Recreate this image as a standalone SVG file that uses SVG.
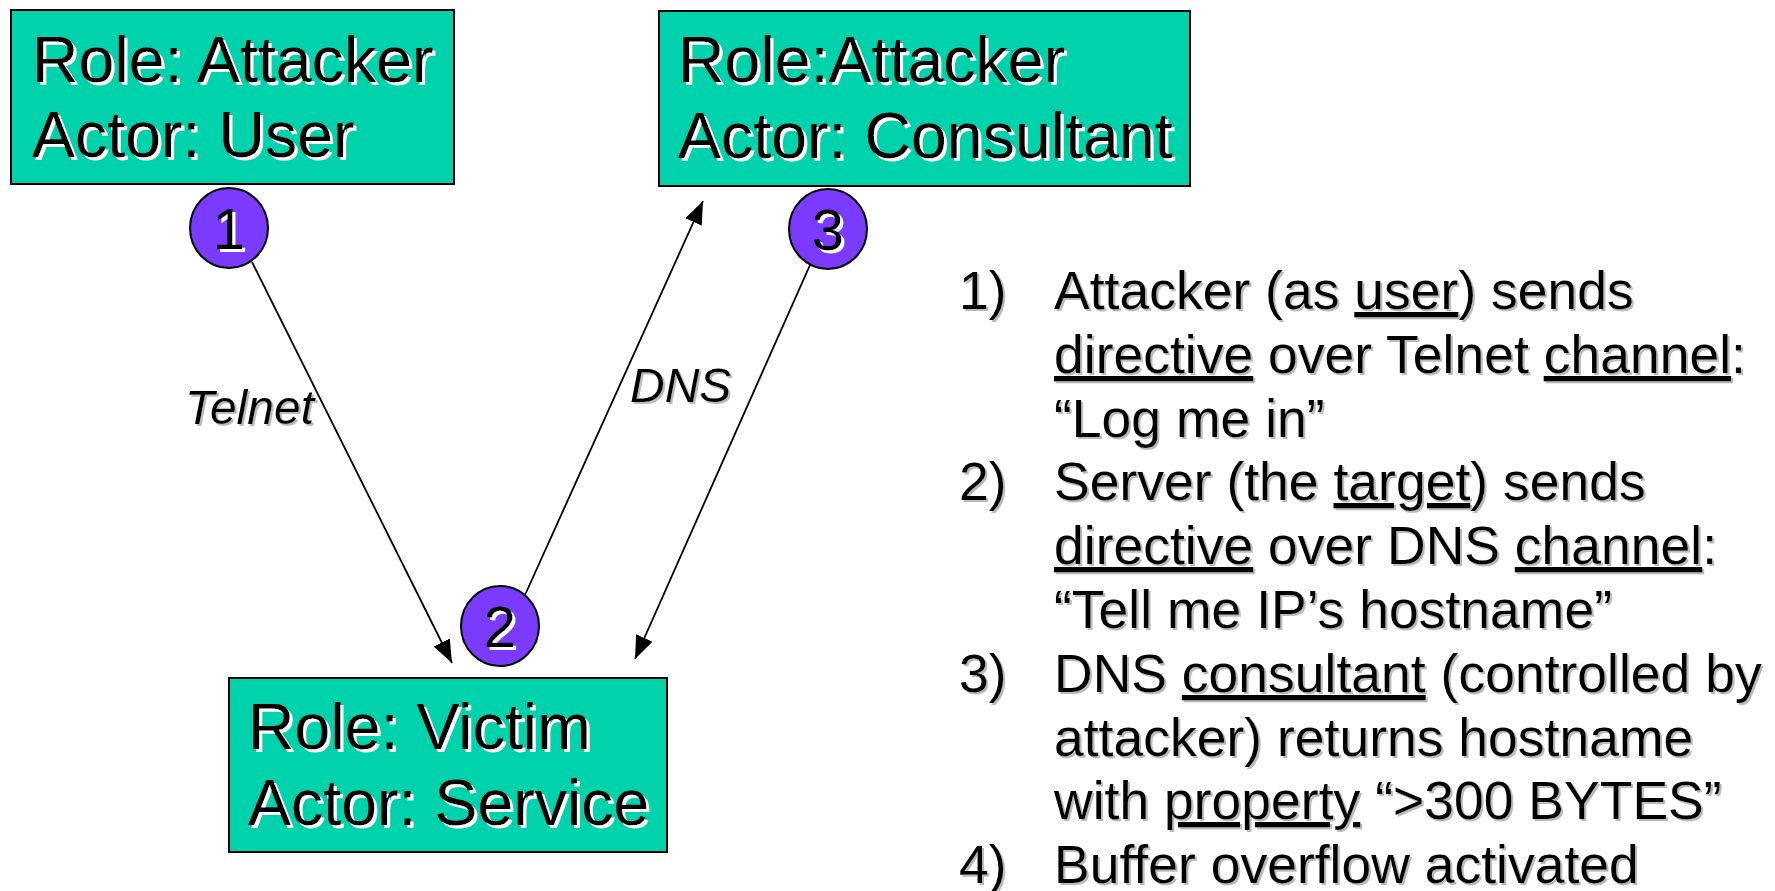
<svg xmlns="http://www.w3.org/2000/svg" width="1775" height="891" viewBox="0 0 1775 891">
<style>
.box{fill:#00D2AC;stroke:#000;stroke-width:2}
.badge{fill:#7B3BFF;stroke:#000;stroke-width:2}
.t{font-family:"Liberation Sans",Arial,sans-serif;fill:#000}
.big{font-size:64.5px;filter:url(#ws)}
.num{font-size:58px;text-anchor:middle;filter:url(#ws)}
.lbl{font-size:48px;font-style:italic;filter:url(#gs)}
.list{font-size:53.5px;filter:url(#gs)}
.u{text-decoration:underline}
.conn{stroke:#000;stroke-width:1.8;fill:none;marker-end:url(#ah)}
</style>
<defs>
<filter id="ws" x="-10%" y="-10%" width="130%" height="130%"><feDropShadow dx="3" dy="3" stdDeviation="0" flood-color="#fff" flood-opacity="1"/></filter>
<filter id="gs" x="-10%" y="-10%" width="130%" height="130%"><feDropShadow dx="2" dy="2" stdDeviation="0.5" flood-color="#aaa" flood-opacity="0.8"/></filter>
<marker id="ah" markerUnits="userSpaceOnUse" markerWidth="24" markerHeight="18" refX="23" refY="9" orient="auto"><path d="M0,0 L23,9 L0,18 z" fill="#000"/></marker>
</defs>
<rect width="1775" height="891" fill="#fff"/>
<g id="connectors">
<line class="conn" x1="252" y1="262" x2="452" y2="663"/>
<line class="conn" x1="525" y1="595" x2="703" y2="201"/>
<line class="conn" x1="810" y1="265" x2="635" y2="659"/>
<text class="t lbl" x="185" y="424">Telnet</text>
<text class="t lbl" x="630" y="402">DNS</text>
</g>
<g id="attacker-user">
<rect class="box" x="11" y="10" width="443" height="174"/>
<text class="t big" x="32" y="82">Role: Attacker</text>
<text class="t big" x="32" y="157">Actor: User</text>
</g>
<g id="attacker-consultant">
<rect class="box" x="659" y="11" width="531" height="175"/>
<text class="t big" x="678" y="82">Role:Attacker</text>
<text class="t big" x="678" y="158">Actor: Consultant</text>
</g>
<g id="victim-service">
<rect class="box" x="229" y="678" width="438" height="174"/>
<text class="t big" x="248" y="749">Role: Victim</text>
<text class="t big" x="248" y="825">Actor: Service</text>
</g>
<g id="badge-1">
<ellipse class="badge" cx="229" cy="228" rx="39" ry="40"/>
<text class="t num" x="229" y="249">1</text>
</g>
<g id="badge-2">
<ellipse class="badge" cx="500" cy="626" rx="39" ry="40"/>
<text class="t num" x="500" y="647">2</text>
</g>
<g id="badge-3">
<ellipse class="badge" cx="828" cy="229" rx="39" ry="40"/>
<text class="t num" x="828" y="250">3</text>
</g>
<g id="steps">
<text class="t list" x="959" y="309">1)</text>
<text class="t list" x="1054" y="309">Attacker (as <tspan class="u">user</tspan>) sends</text>
<text class="t list" x="1054" y="373"><tspan class="u">directive</tspan> over Telnet <tspan class="u">channel</tspan>:</text>
<text class="t list" x="1054" y="437">“Log me in”</text>
<text class="t list" x="959" y="500">2)</text>
<text class="t list" x="1054" y="500">Server (the <tspan class="u">target</tspan>) sends</text>
<text class="t list" x="1054" y="564"><tspan class="u">directive</tspan> over DNS <tspan class="u">channel</tspan>:</text>
<text class="t list" x="1054" y="628">“Tell me IP’s hostname”</text>
<text class="t list" x="959" y="692">3)</text>
<text class="t list" x="1054" y="692">DNS <tspan class="u">consultant</tspan> (controlled by</text>
<text class="t list" x="1054" y="756">attacker) returns hostname</text>
<text class="t list" x="1054" y="819">with <tspan class="u">property</tspan> “&gt;300 BYTES”</text>
<text class="t list" x="959" y="883">4)</text>
<text class="t list" x="1054" y="883">Buffer overflow activated</text>
</g>
</svg>
